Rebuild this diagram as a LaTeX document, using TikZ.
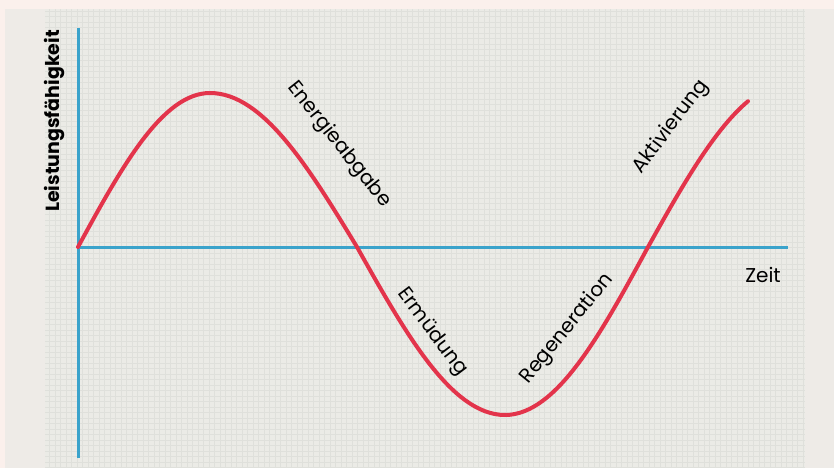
\documentclass[tikz,border=0pt]{standalone}
\usepackage{fontspec}
\setmainfont{Poppins}
\usepackage{xcolor}
\definecolor{paperPink}{HTML}{FBF0EC}
\definecolor{paperGrey}{HTML}{EEEBE7}
\definecolor{gridBg}{HTML}{EBEBE6}
\definecolor{gridLine}{HTML}{DFE0DB}
\definecolor{axisBlue}{HTML}{3AA3CB}
\definecolor{curveRed}{HTML}{E3344B}

\begin{document}
\begin{tikzpicture}[x=1pt, y=-1pt]
  \useasboundingbox (0,0) rectangle (834,468);
  \filldraw[fill=paperPink, draw=none] (0,0) rectangle (834,468);
  \filldraw[fill=paperGrey, draw=none] (5,9) rectangle (834,468);
  \filldraw[fill=gridBg, draw=none] (45,9) rectangle (805,468);
  \draw[gridLine, line width=0.3pt, step=5.5pt] (45,9) grid (805,468);
  \coordinate (O) at (78,247);
  \coordinate (yTop) at (78,28);
  \coordinate (yBot) at (78,458);
  \coordinate (xEnd) at (788,247);
  \draw[axisBlue, line width=3pt] (yBot) -- (yTop);
  \draw[axisBlue, line width=3pt] (O) -- (xEnd);
  \draw[curveRed, line width=4pt, line cap=round] (O) sin (210,93) cos (357,247) sin (505,415) cos (648,247)
    -- plot[domain=0:100, samples=30] ({648+\x}, {247-165*sin(\x/145*90)});
  \node[rotate=90, font=\fontsize{19}{22}\selectfont\bfseries] (yLabel) at (55,121) {Leistungsfähigkeit};
  \node[font=\fontsize{20}{24}\selectfont] (xLabel) at (763,275) {Zeit};
  \node[rotate=-51.5, font=\fontsize{20}{24}\selectfont] (lblEnergie) at (339,145) {Energieabgabe};
  \node[rotate=-53, font=\fontsize{20}{24}\selectfont] (lblErmuedung) at (432,332) {Ermüdung};
  \node[rotate=51, font=\fontsize{20}{24}\selectfont] (lblRegen) at (567,329) {Regeneration};
  \node[rotate=53, font=\fontsize{20}{24}\selectfont] (lblAktiv) at (671,127) {Aktivierung};
\end{tikzpicture}
\end{document}
